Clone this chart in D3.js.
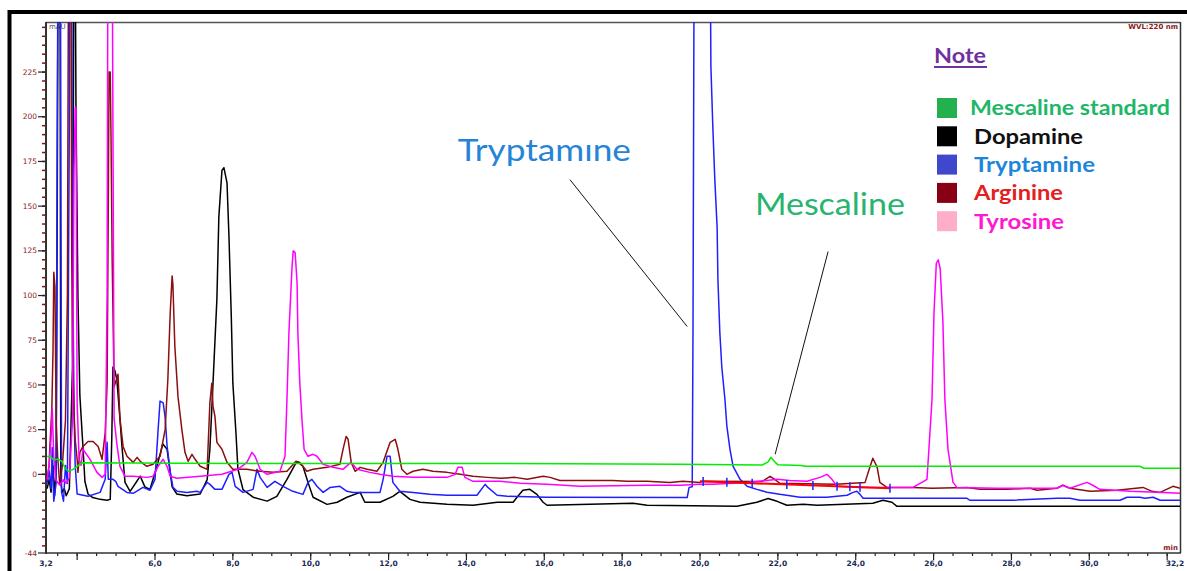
<!DOCTYPE html>
<html><head><meta charset="utf-8">
<script src="https://cdn.jsdelivr.net/npm/d3@7"></script>
<style>body{margin:0;background:#fff;} svg{display:block;}</style>
</head><body><svg id="c" width="1187" height="571"></svg>
<script>
// ---------------- DATA (time in min, signal in mAU) ----------------
const mescalineStd = [[3.23,10],[3.30,10.1],[3.40,8],[3.50,8.5],[3.61,7.3],[3.69,3.5],[3.77,1.7],[3.90,2.8],[4.00,4.5],[4.12,6.5],[8,6.1],[14,6.1],[19.5,5.6],[21.6,5.2],[21.75,7],[21.82,9.5],[21.9,7.5],[22.0,5.3],[22.6,5.0],[22.7,4.5],[31.3,4.5],[31.4,3.4],[32.33,3.4]];

const dopamine = [[3.23,-8],[3.28,-3],[3.33,-10],[3.38,5],[3.42,-12],[3.46,2],[3.49,150],[3.51,300],[3.56,300],[3.58,-5],[3.62,-10],[3.67,-8],[3.72,-12],[3.80,-8],[3.88,60],[3.92,300],[3.95,300],[3.97,205],[4.02,100],[4.07,44],[4.15,15],[4.20,-4],[4.28,-11],[4.40,-13],[4.59,-14],[4.77,-14.5],[4.85,-14],[4.89,20],[4.92,60],[4.97,58],[5.02,53],[5.10,31],[5.15,16],[5.23,-4.5],[5.36,-9.5],[5.50,-5],[5.62,-1],[5.74,-7],[5.87,-8.5],[6.05,4.5],[6.20,17],[6.31,14],[6.44,-7],[6.56,-11],[6.82,-12],[7.16,-11],[7.34,-3],[7.41,14],[7.49,51],[7.59,98],[7.64,144],[7.72,170],[7.77,171.5],[7.85,163],[7.90,133],[7.96,88],[8.00,51],[8.08,23],[8.13,3],[8.26,-8.5],[8.52,-12.8],[8.88,-15],[9.13,-12.3],[9.39,-2.8],[9.60,5.6],[9.67,7],[9.80,4.5],[9.93,-4.5],[10.06,-12.8],[10.42,-16.8],[10.68,-15.6],[10.93,-12.8],[11.27,-10.1],[11.39,-15.6],[11.78,-15.6],[12.11,-12.3],[12.29,-9.5],[12.55,-14],[12.81,-15.6],[13.50,-16.8],[14.17,-17.3],[14.79,-15.6],[15.20,-15.6],[15.30,-12.8],[15.45,-8.9],[15.63,-8.4],[15.81,-11.2],[15.97,-15.6],[16.07,-17.3],[18.28,-16.2],[18.64,-17.3],[20.95,-17.9],[21.46,-15.6],[21.75,-13.5],[21.98,-15.1],[22.23,-17.3],[22.65,-16.8],[23.01,-17.3],[24.44,-16.2],[24.70,-14.5],[24.93,-15.6],[25.06,-17.9],[32.33,-17.9]];

const tryptamine = [[3.23,-5],[3.28,2],[3.33,-8],[3.36,15],[3.40,-15],[3.46,-5],[3.49,200],[3.51,300],[3.57,300],[3.60,-10],[3.65,-15],[3.70,5],[3.75,-5],[3.80,200],[3.82,300],[3.86,300],[3.88,135],[3.92,35],[3.95,5],[4.00,-11],[4.28,-12.3],[4.59,-10.1],[4.72,-2.8],[4.77,18],[4.80,-2.8],[4.92,-2.8],[4.99,-3.9],[5.05,-6.7],[5.28,-10.1],[5.44,-10.6],[5.69,-7.3],[5.87,-8.9],[6.00,-2.8],[6.08,25],[6.13,41],[6.21,40],[6.26,32],[6.31,16],[6.39,1.7],[6.46,-7.3],[6.57,-9.5],[6.82,-10.1],[7.08,-9.5],[7.16,-10.1],[7.34,-4.5],[7.41,-5.6],[7.54,-8.4],[7.72,-8.4],[7.90,0],[7.98,1.1],[8.06,-6.7],[8.26,-10.1],[8.52,-8.4],[8.62,2.8],[8.70,-1.7],[8.88,-7.3],[9.08,-3.9],[9.29,-6.7],[9.54,-9.5],[9.80,-11.2],[9.93,-4.5],[10.03,-2.8],[10.16,-6.7],[10.32,-10.1],[10.50,-7.3],[10.75,-6.7],[10.93,-9.5],[11.09,-10.1],[11.78,-10.1],[11.86,-2.8],[11.96,10.1],[12.04,10.1],[12.11,-4.5],[12.29,-9.5],[12.63,-10.1],[13.06,-11.2],[13.50,-11.7],[14.27,-11.7],[14.48,-5.6],[14.55,-7.3],[14.79,-11.7],[15.05,-12.3],[16.07,-12.8],[19.67,-13.0],[19.72,-7.3],[19.80,-7.0],[19.82,80],[19.85,300],[20.05,420],[20.26,300],[20.28,228],[20.33,194],[20.38,165],[20.44,138],[20.46,109],[20.51,79],[20.56,60],[20.64,42],[20.69,27],[20.77,14],[20.85,4.5],[21.03,-2.8],[21.21,-6.7],[21.46,-8.4],[21.72,-10],[22.05,-11.2],[22.57,-12.8],[23.26,-12.8],[23.78,-11.7],[23.93,-10.1],[24.03,-9.5],[24.11,-11.2],[24.19,-13.4],[24.29,-13.4],[26.86,-13.4],[26.93,-14.5],[28.04,-14.5],[29.17,-13.4],[29.50,-13.4],[29.76,-14.5],[30.79,-14.5],[30.97,-12.8],[31.30,-12.8],[31.43,-13.4],[31.64,-12.8],[31.82,-14.5],[32.33,-14.5]];

const arginine = [[3.23,-3],[3.28,5],[3.30,15.6],[3.35,37],[3.38,69],[3.40,113],[3.43,105],[3.46,30],[3.50,10],[3.55,-5],[3.62,5],[3.70,30],[3.75,100],[3.78,300],[3.84,300],[3.86,125],[3.88,70],[3.92,35],[3.95,19.5],[4.00,8.4],[4.02,1.1],[4.07,12.3],[4.15,15.6],[4.28,18.4],[4.41,18.4],[4.54,15.6],[4.64,8.4],[4.72,23],[4.77,51],[4.80,150],[4.82,225],[4.85,225],[4.87,190],[4.90,120],[4.95,49],[5.05,56],[5.10,31],[5.18,15.6],[5.28,10.1],[5.44,6.7],[5.54,9.5],[5.62,7.3],[5.79,4.5],[5.95,5.6],[6.13,10.1],[6.26,25],[6.33,53],[6.39,90],[6.44,111],[6.46,106],[6.51,71.5],[6.59,43.6],[6.69,25],[6.77,12.3],[6.85,7.3],[6.95,11.2],[7.03,8.4],[7.16,4.5],[7.34,2.8],[7.41,40],[7.46,51],[7.49,38],[7.54,32.4],[7.59,17.9],[7.72,14],[7.85,6.7],[8.00,2.8],[8.36,2.8],[8.70,1.7],[9.03,1.1],[9.39,1.7],[9.62,7.3],[9.72,6.7],[9.90,1.7],[10.06,2.8],[10.42,3.9],[10.75,5.6],[10.83,14],[10.91,21.2],[10.96,19.6],[11.04,6.7],[11.14,1.7],[11.27,3.9],[11.45,2.8],[11.70,1.7],[11.86,6.7],[12.04,17.9],[12.17,19.6],[12.24,14],[12.34,2.8],[12.47,0],[12.63,1.7],[12.88,2.8],[13.14,1.7],[13.50,1.1],[13.84,0],[14.17,-1.1],[14.53,-1.7],[14.89,-2.2],[15.25,-1.7],[15.56,-2.8],[15.97,-1.1],[16.15,-1.7],[16.40,-3.4],[17.76,-3.4],[18.12,-3.9],[18.64,-3.9],[19.23,-4.5],[19.56,-3.9],[20.00,-4.5],[20.08,-3.9],[21.60,-4],[21.72,-2.2],[21.80,-1.1],[21.90,-2.5],[22.05,-5],[23.5,-5.6],[24.24,-4.5],[24.37,4.5],[24.44,9],[24.55,4],[24.62,-4.5],[24.80,-7.3],[25.47,-7.3],[25.96,-7.8],[26.86,-7.3],[27.19,-8.4],[27.89,-8.4],[28.48,-7.8],[28.66,-8.9],[29.17,-7.8],[29.32,-6.1],[29.50,-7.8],[30.02,-9.5],[30.71,-8.9],[31.38,-7.3],[31.61,-9.5],[31.82,-10.1],[32.15,-6.7],[32.33,-7.8]];

const tyrosine = [[3.23,-3],[3.28,5],[3.33,20],[3.36,37],[3.40,10],[3.45,-3],[3.55,-6],[3.65,-3],[3.72,-5],[3.80,-2],[3.88,30],[3.92,170],[3.95,205],[3.97,205],[4.00,40],[4.05,8.4],[4.10,5],[4.15,14],[4.33,8.4],[4.51,1.1],[4.64,-1.7],[4.72,0],[4.77,100],[4.79,300],[4.90,300],[4.95,31],[5.02,17],[5.10,4.5],[5.23,-1.1],[5.44,-1.1],[5.79,-1.7],[5.95,-1.1],[6.08,4.5],[6.21,8.4],[6.31,4.5],[6.39,-1.1],[6.56,-2.2],[7.16,-1.1],[7.72,0],[8.13,2.8],[8.36,6.7],[8.49,12.3],[8.57,10.1],[8.70,2.8],[8.88,0],[9.21,1.7],[9.34,10.1],[9.39,42],[9.44,79],[9.52,116],[9.55,125],[9.60,124],[9.65,107],[9.67,79],[9.72,51],[9.78,29],[9.83,14],[9.93,10.1],[10.06,11.2],[10.16,10.1],[10.32,5.6],[10.57,3.9],[10.83,2.8],[11.03,6.7],[11.19,2.8],[11.52,1.1],[11.78,0],[12.11,-1.1],[12.63,-1.7],[13.50,-1.7],[13.71,0],[13.78,3.9],[13.89,3.9],[13.96,-1.7],[14.17,-3.9],[14.86,-3.9],[15.38,-5],[16.07,-5.6],[16.92,-6.7],[18.64,-6.1],[19.49,-6.1],[20.00,-5.6],[20.33,-5.6],[21.21,-4.5],[21.72,-3.4],[21.98,-2.8],[22.31,-3.4],[22.75,-3.9],[23.08,-1.7],[23.26,0],[23.39,-2.8],[23.52,-6.7],[24.11,-7.3],[25.47,-7.3],[25.70,-4.5],[25.83,-2.8],[25.88,14],[25.96,42],[26.01,90],[26.07,118],[26.12,120],[26.17,115],[26.24,85],[26.29,42],[26.37,14],[26.50,-4.5],[26.60,-7.3],[27.63,-7.8],[29.17,-7.8],[29.32,-6.1],[29.50,-7.8],[29.94,-4.5],[30.09,-6.1],[30.27,-8.4],[31.05,-9.5],[31.89,-10.1],[32.33,-10.6]];

const integrationBaseline = [[20.0,-3.9],[24.88,-7.8]];
const peakMarkTimes = [20.08,20.69,21.34,22.23,22.90,23.52,23.85,24.11,24.88];

const xTickValues = [3.2,6,8,10,12,14,16,18,20,22,24,26,28,30,32.2];
const xTickLabels = ["3,2","6,0","8,0","10,0","12,0","14,0","16,0","18,0","20,0","22,0","24,0","26,0","28,0","30,0","32,2"];
const yTickValues = [-44,0,25,50,75,100,125,150,175,200,225];
const yTickLabels = ["-44","0","25","50","75","100","125","150","175","200","225"];

const legendNames = ["Mescaline standard","Dopamine","Tryptamine","Arginine","Tyrosine"];
const swatchColors = ["#22b14c","#000000","#3f48cc","#880015","#ffaec9"];
const legendTextColors = ["#1db768","#111111","#1e86da","#e3201c","#ff18cf"];

const annotations = [
  {text:"Tryptamıne", color:"#2584d6", t:13.78, v:175, len:173, line:[[16.66,164.8],[19.67,82.7]]},
  {text:"Mescaline", color:"#27b46e", t:21.41, v:145, len:150, line:[[23.29,124.6],[21.93,11.2]]}
];

// ---------------- DRAW ----------------
const svg = d3.select("#c");
const L=46, R=1180, T=22, B=553;
const x = d3.scaleLinear().domain([3.2,32.33]).range([L,R]);
const y = d3.scaleLinear().domain([-44,253]).range([B,T]);

// outer frame
svg.append("rect").attr("x",9.5).attr("y",12).attr("width",1200).attr("height",600)
  .attr("fill","none").attr("stroke","#000").attr("stroke-width",4);

svg.append("defs").append("clipPath").attr("id","clip")
  .append("rect").attr("x",L).attr("y",T).attr("width",R-L).attr("height",B-T);

// plot frame
svg.append("line").attr("x1",L).attr("x2",R).attr("y1",T+0.5).attr("y2",T+0.5).attr("stroke","#555").attr("stroke-width",1.5);
svg.append("line").attr("x1",R+0.5).attr("x2",R+0.5).attr("y1",T).attr("y2",B).attr("stroke","#333").attr("stroke-width",1.5);

// y axis
const yMinor = d3.range(-40,255,5);
const gy = svg.append("g");
gy.selectAll("line.mn").data(yMinor).join("line").attr("class","mn")
  .attr("x1",L-4).attr("x2",L-1).attr("y1",d=>y(d)).attr("y2",d=>y(d))
  .attr("stroke","#8b1010").attr("stroke-width",1.5);
gy.selectAll("line.mj").data(yTickValues).join("line").attr("class","mj")
  .attr("x1",L-8).attr("x2",L).attr("y1",d=>y(d)).attr("y2",d=>y(d))
  .attr("stroke","#222").attr("stroke-width",1.2);
gy.selectAll("text").data(yTickValues).join("text")
  .attr("x",L-9).attr("y",d=>y(d)).attr("dy","0.35em").attr("text-anchor","end")
  .attr("font-family","DejaVu Sans").attr("font-size",7.5).attr("fill","#8b1a1a")
  .text((d,i)=>yTickLabels[i]);
svg.append("line").attr("x1",L).attr("x2",L).attr("y1",T).attr("y2",B+1).attr("stroke","#333").attr("stroke-width",2);

// x axis
const xMinor = d3.range(3.5,32.3,0.5);
const xMajor = d3.range(4,32.1,2);
const gx = svg.append("g");
gx.selectAll("line.mn").data(xMinor).join("line").attr("class","mn")
  .attr("x1",d=>x(d)).attr("x2",d=>x(d)).attr("y1",B).attr("y2",B+3)
  .attr("stroke","#222").attr("stroke-width",1.2);
gx.selectAll("line.mj").data(xMajor).join("line").attr("class","mj")
  .attr("x1",d=>x(d)).attr("x2",d=>x(d)).attr("y1",B).attr("y2",B+7)
  .attr("stroke","#222").attr("stroke-width",1.2);
gx.selectAll("text").data(xTickValues).join("text")
  .attr("x",d=>x(d)).attr("y",B+13).attr("text-anchor","middle")
  .attr("font-family","DejaVu Sans").attr("font-size",7.5).attr("font-weight","bold").attr("fill","#1a2a55")
  .text((d,i)=>xTickLabels[i]);
svg.append("line").attr("x1",L).attr("x2",R+1).attr("y1",B).attr("y2",B).attr("stroke","#333").attr("stroke-width",1.5);

// small labels
svg.append("text").attr("x",L+3).attr("y",T+7).attr("font-family","DejaVu Sans").attr("font-size",7).attr("fill","#555").text("mAU");
svg.append("text").attr("x",R-2).attr("y",T+7).attr("text-anchor","end").attr("font-family","DejaVu Sans").attr("font-size",7).attr("font-weight","bold").attr("fill","#8b1a1a").text("WVL:220 nm");
svg.append("text").attr("x",R-2).attr("y",B-3).attr("text-anchor","end").attr("font-family","DejaVu Sans").attr("font-size",7).attr("font-weight","bold").attr("fill","#8b1a1a").text("min");

// traces
const line = d3.line().x(d=>x(d[0])).y(d=>y(d[1]));
const plot = svg.append("g").attr("clip-path","url(#clip)");
const series = [
  {d:dopamine, c:"#000000"},
  {d:tryptamine, c:"#1f1fff"},
  {d:arginine, c:"#8b0f0f"},
  {d:tyrosine, c:"#ff00ff"},
  {d:mescalineStd, c:"#00ee00"}
];
series.forEach(s=>{
  plot.append("path").attr("d",line(s.d)).attr("fill","none").attr("stroke",s.c).attr("stroke-width",1.5).attr("stroke-linejoin","round");
});
plot.append("path").attr("d",line(integrationBaseline)).attr("fill","none").attr("stroke","#ff0000").attr("stroke-width",2);
const bl = d3.scaleLinear().domain(integrationBaseline.map(d=>d[0])).range(integrationBaseline.map(d=>d[1]));
plot.selectAll("line.pm").data(peakMarkTimes).join("line").attr("class","pm")
  .attr("x1",d=>x(d)).attr("x2",d=>x(d)).attr("y1",d=>y(bl(d)+2.5)).attr("y2",d=>y(bl(d)-2.5))
  .attr("stroke","#1f1fff").attr("stroke-width",1.5);

// annotations
annotations.forEach(a=>{
  svg.append("line").attr("x1",x(a.line[0][0])).attr("y1",y(a.line[0][1]))
    .attr("x2",x(a.line[1][0])).attr("y2",y(a.line[1][1])).attr("stroke","#111").attr("stroke-width",1);
  svg.append("text").attr("x",x(a.t)).attr("y",y(a.v)).attr("font-family","Lato").attr("font-size",30)
    .attr("fill",a.color).attr("textLength",a.len).attr("lengthAdjust","spacingAndGlyphs").text(a.text);
});

// legend
const legendTextWidths = [200,109,121,89,90];
const lg = svg.append("g").attr("transform","translate(934,0)");
lg.append("text").attr("x",0).attr("y",63).attr("font-family","Lato").attr("font-weight","bold").attr("font-size",21)
  .attr("fill","#7030a0").attr("textLength",52).attr("lengthAdjust","spacingAndGlyphs").text("Note");
lg.append("line").attr("x1",0).attr("x2",53).attr("y1",67).attr("y2",67).attr("stroke","#7030a0").attr("stroke-width",2);
legendNames.forEach((n,i)=>{
  const cy = 108 + i*28.3;
  lg.append("rect").attr("x",3).attr("y",cy-10).attr("width",20).attr("height",20).attr("fill",swatchColors[i]);
  lg.append("text").attr("x",i===0?36:40).attr("y",cy).attr("dy","0.35em").attr("font-family","Lato").attr("font-weight","bold")
    .attr("font-size",21).attr("fill",legendTextColors[i])
    .attr("textLength",legendTextWidths[i]).attr("lengthAdjust","spacingAndGlyphs").text(n);
});
</script></body></html>
